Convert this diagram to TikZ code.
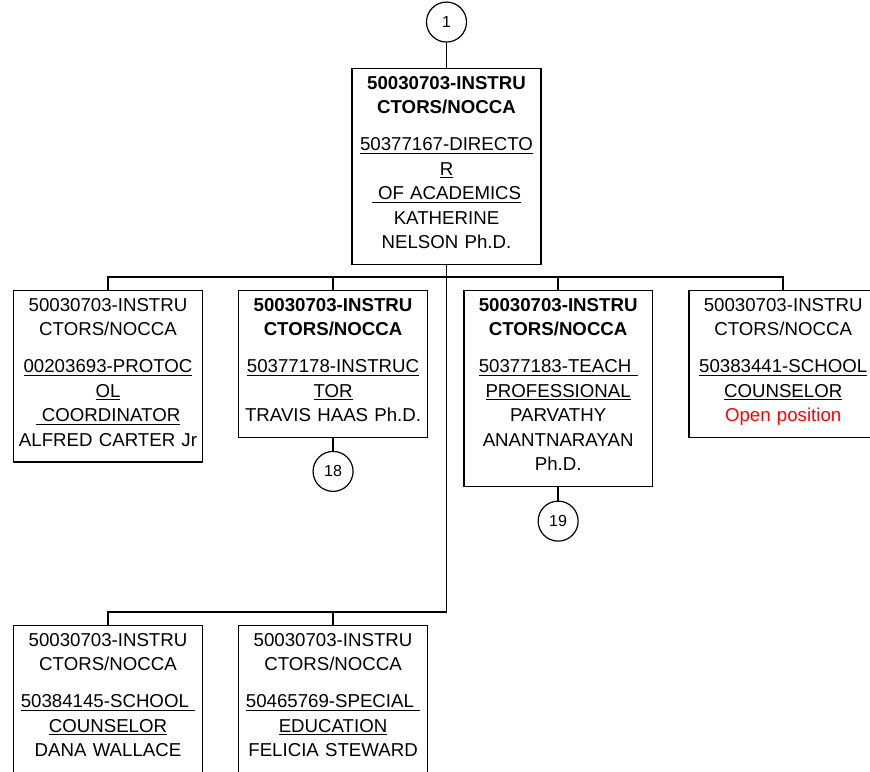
\documentclass[tikz,border=0pt]{standalone}
\usepackage{fontspec}
\setmainfont{Liberation Sans}
\usetikzlibrary{positioning}
\usepackage{xcolor}

\newcommand\postTop{\rule{0pt}{11pt}}
\newcommand\postEnd{\rule[-7.4pt]{0pt}{7.4pt}}

\tikzset{
  post/.style={draw, line width=1.1pt, text width=136pt, minimum width=141.5pt,
    align=center, inner xsep=2pt, inner ysep=4.3pt,
    font=\fontsize{14}{18.4}\selectfont},
  conn/.style={circle, draw, line width=0.9pt, minimum size=30pt, inner sep=0pt,
    font=\fontsize{12}{14}\selectfont},
}

\begin{document}
\begin{tikzpicture}[x=0.75pt, y=-0.75pt, line width=1.1pt]
    \useasboundingbox (0,0) rectangle (870,771);
    \clip (0,0) rectangle (870,771);

    % top of the branch, with its link circle
    \node[post, anchor=north] (top) at (446.5,68) {\postTop\textbf{50030703-INSTRU}\\ \textbf{CTORS/NOCCA}\\[9.4pt]
      \underline{50377167-DIRECTO}\\ \underline{R}\\ \underline{\ OF ACADEMICS}\\ KATHERINE\\ NELSON Ph.D.\postEnd};
    \node[conn] (c1) [above=19pt of top] {1};

    % first row
    \node[post, anchor=north] (prot) at (108,290) {\postTop 50030703-INSTRU\\ CTORS/NOCCA\\[9.4pt]
      \underline{00203693-PROTOC}\\ \underline{OL}\\ \underline{\ COORDINATOR}\\ ALFRED CARTER Jr\postEnd};
    \node[post, right=26.2pt of prot.north east, anchor=north west] (instr) {\postTop\textbf{50030703-INSTRU}\\ \textbf{CTORS/NOCCA}\\[9.4pt]
      \underline{50377178-INSTRUC}\\ \underline{TOR}\\ TRAVIS HAAS Ph.D.\postEnd};
    \node[post, right=26.2pt of instr.north east, anchor=north west] (teach) {\postTop\textbf{50030703-INSTRU}\\ \textbf{CTORS/NOCCA}\\[9.4pt]
      \underline{50377183-TEACH\ }\\ \underline{PROFESSIONAL}\\ PARVATHY\\ ANANTNARAYAN\\ Ph.D.\postEnd};
    \node[post, right=26.2pt of teach.north east, anchor=north west] (couns) {\postTop 50030703-INSTRU\\ CTORS/NOCCA\\[9.4pt]
      \underline{50383441-SCHOOL}\\ \underline{COUNSELOR}\\ \textcolor{red}{Open position}\postEnd};
    \node[conn] (c18) [below=9.5pt of instr] {18};
    \node[conn] (c19) [below=10pt of teach] {19};

    % second row
    \node[post, anchor=north] (dana) at (108,625) {\postTop 50030703-INSTRU\\ CTORS/NOCCA\\[9.4pt]
      \underline{50384145-SCHOOL\ }\\ \underline{COUNSELOR}\\ DANA WALLACE\postEnd};
    \node[post, right=26.2pt of dana.north east, anchor=north west] (spec) {\postTop 50030703-INSTRU\\ CTORS/NOCCA\\[9.4pt]
      \underline{50465769-SPECIAL\ }\\ \underline{EDUCATION}\\ FELICIA STEWARD\postEnd};

    \coordinate (bus1) at (446.5,277);
    \coordinate (bus2) at (446.5,612);

    \path
    (c1) edge (top)
    (instr) edge (c18)
    (teach) edge (c19);

    \draw (top) -- (bus1);
    \draw (prot.north) -- (prot.north |- bus1) -- (couns.north |- bus1) -- (couns.north);
    \draw (instr.north) -- (instr.north |- bus1);
    \draw (teach.north) -- (teach.north |- bus1);
    \draw (bus1) -- (bus2) -| (dana.north);
    \draw (bus2) -| (spec.north);
\end{tikzpicture}
\end{document}
